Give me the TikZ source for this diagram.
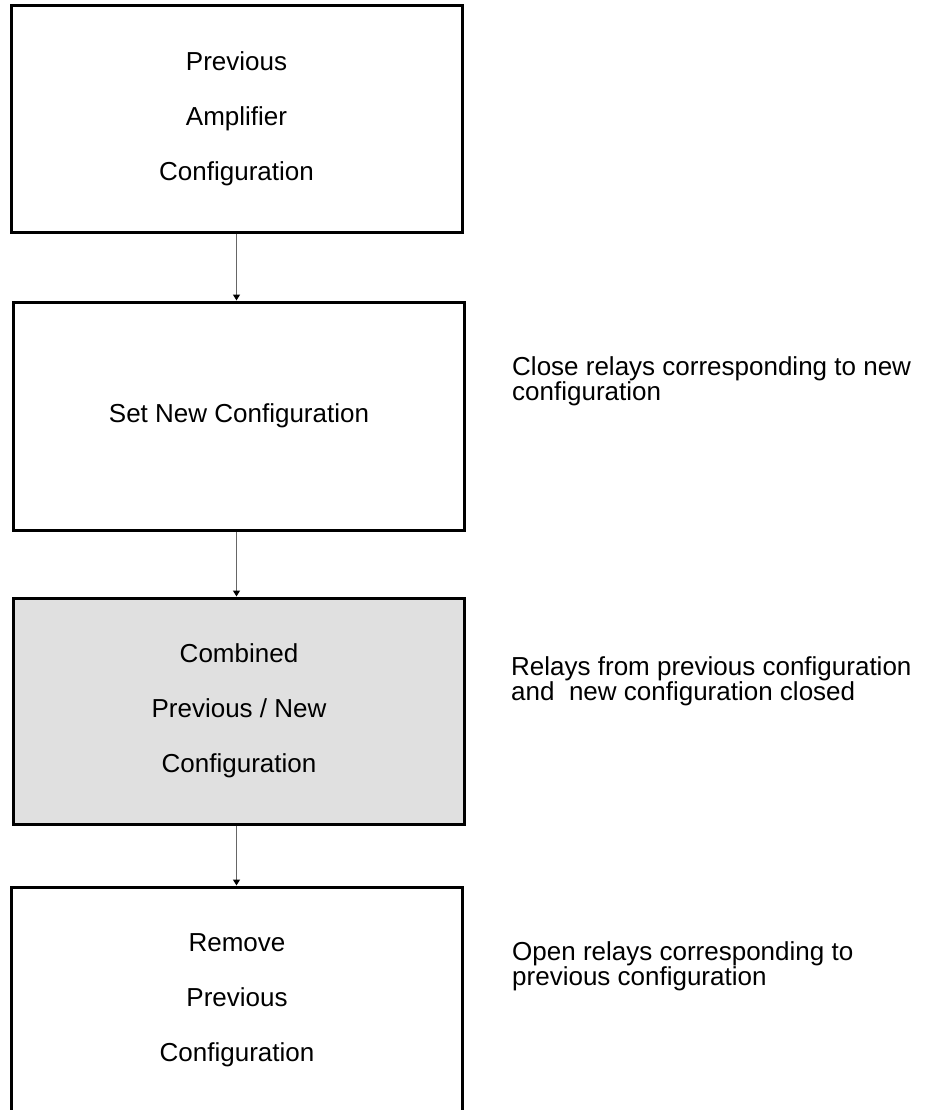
\documentclass[tikz,border=0pt]{standalone}
\usepackage{fontspec}
\setmainfont{Liberation Sans}
\usetikzlibrary{arrows.meta}
\definecolor{combgray}{RGB}{224,224,224}
\begin{document}
\begin{tikzpicture}[x=1pt, y=-1pt,
	stage/.style={draw, line width=3pt, minimum width=451pt, minimum height=226pt, align=center, font=\fontsize{26}{55}\selectfont},
	note/.style={anchor=base west, align=left, inner sep=0pt, font=\fontsize{26}{25}\selectfont},
	flow/.style={black!60, line width=1.4pt, -{Triangle[length=6pt, width=7pt, color=black]}}]
	\useasboundingbox (0,0) rectangle (930,1110);
	\node [stage] (prev) at (236.5,119) {Previous\\Amplifier\\Configuration};
	\node [stage, minimum height=228pt] (set) at (239,416) {Set New Configuration};
	\node [stage, fill=combgray] (comb) at (239,711) {Combined\\Previous / New\\Configuration};
	\node [stage] (remove) at (237,1000) {Remove\\Previous\\Configuration};
	\draw [flow] (prev.south) -- (prev.south |- set.north);
	\draw [flow] (prev.south |- set.south) -- (prev.south |- comb.north);
	\draw [flow] (prev.south |- comb.south) -- (prev.south |- remove.north);
	\node [note] (setnote) at (512,400) {Close relays corresponding to new\\configuration};
	\node [note] (combnote) at (511,700) {Relays from previous configuration\\and\ \ new configuration closed};
	\node [note] (removenote) at (512,985) {Open relays corresponding to\\previous configuration};
\end{tikzpicture}
\end{document}
